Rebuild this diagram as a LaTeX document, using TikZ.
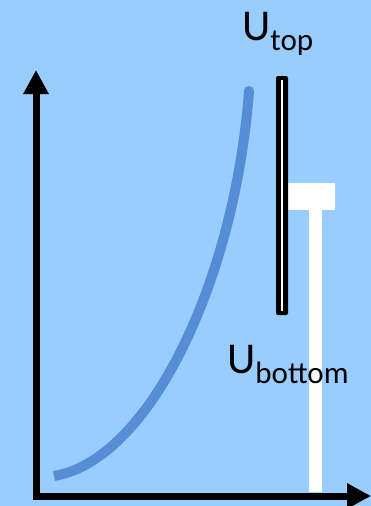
\documentclass[tikz,border=0pt]{standalone}
\usepackage{fontspec}
\setmainfont{Carlito}
\usetikzlibrary{arrows.meta}
\definecolor{bgblue}{HTML}{99CCFF}
\definecolor{curveblue}{HTML}{558ED5}
\tikzset{
  axis/.style={line width=7pt, -{Triangle[width=24pt,length=24pt]}},
  curveline/.style={line width=10pt, curveblue},
  lbl/.style={anchor=base west, inner sep=0pt, font=\fontsize{44}{48}\selectfont},
}
\newcommand{\subtxt}[1]{\raisebox{-10pt}{\fontsize{31}{34}\selectfont #1}}
\begin{document}
\begin{tikzpicture}[x=1pt,y=-1pt]
  \fill[bgblue] (0,0) rectangle (371,506);
  \useasboundingbox (0,0) rectangle (371,506);
  % axes
  \coordinate (origin) at (36,496);
  \coordinate (ytip) at (36,70);
  \coordinate (xtip) at (371,496);
  \draw[axis] (36,499.5) -- (ytip);
  \draw[axis] (32.5,496) -- (xtip);
  % curve
  \coordinate (cs) at (54,476);
  \coordinate (ce) at (249,91);
  \draw[curveline] (cs) .. controls (150,460) and (235,280) .. (ce);
  \fill[curveblue] (ce) circle (5pt);
  % white T electrode
  \fill[white] (288,183) rectangle (335,210);
  \fill[white] (309,210) rectangle (322,492);
  % black electrode
  \fill[black, rounded corners=2pt] (276,76) rectangle (288,315);
  \draw[white, line width=1.5pt] (282,80) -- (282,311);
  % labels
  \node[lbl] (utop) at (242,40) {U\subtxt{top}};
  \node[lbl] (ubot) at (227,373) {U\subtxt{bottom}};
\end{tikzpicture}
\end{document}
